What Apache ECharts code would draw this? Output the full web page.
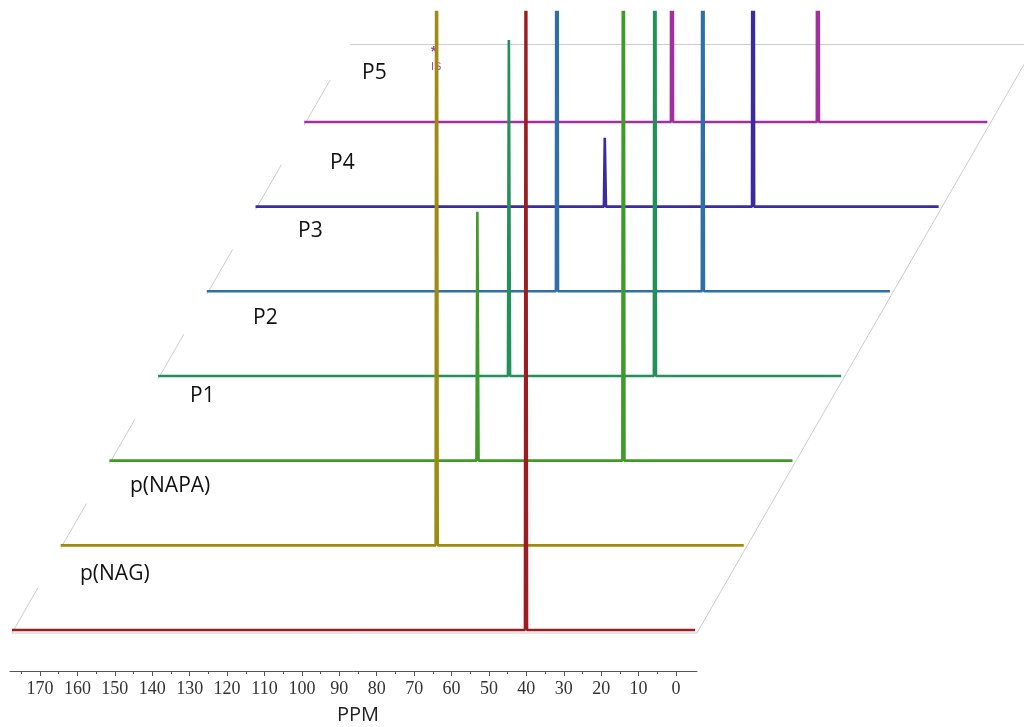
<!DOCTYPE html>
<html><head><meta charset="utf-8">
<script src="https://cdn.jsdelivr.net/npm/echarts@6/dist/echarts.min.js"></script>
<style>html,body{margin:0;padding:0;background:#fff}#c{width:1024px;height:727px}</style>
</head><body><div id="c"></div>
<script>
// ---- data ----
const traceNames = ['p(NAG)', 'p(NAPA)', 'P1', 'P2', 'P3', 'P4', 'P5'];
const ppmStart = 177.5;   // left end of each spectrum (ppm)
const ppmEnd = -5.1;      // right end of each spectrum (ppm)
// peaks: [ppm, intensity]; large intensities run off the top of the plot
const peaksNAG  = [[40.1, 1000]];
const peaksNAPA = [[77.0, 1000]];
const peaksP1   = [[79.1, 249], [40.1, 1000]];
const peaksP2   = [[83.7, 336], [44.7, 1000]];
const peaksP3   = [[83.9, 1000], [44.9, 1000]];
const peaksP4   = [[84.1, 69], [44.5, 1000]];
const peaksP5   = [[79.2, 1000], [40.2, 1000]];
const majorTicks = [170, 160, 150, 140, 130, 120, 110, 100, 90, 80, 70, 60, 50, 40, 30, 20, 10, 0];
const minorTicks = [175, 165, 155, 145, 135, 125, 115, 105, 95, 85, 75, 65, 55, 45, 35, 25, 15, 5];

// ---- presentation ----
const peakSets = [peaksNAG, peaksNAPA, peaksP1, peaksP2, peaksP3, peaksP4, peaksP5];
const colors = ['#9c1c22', '#9e8b12', '#3f9a28', '#23905a', '#2f6fa8', '#3a2c9e', '#a2309c'];
const SHIFT = 13.02;   // ppm shift per stacked trace (perspective)
const STEP = 84.67;    // vertical offset per stacked trace
const HALF = 0.28, TOPHALF = 0.04;
const FRAME_LEVELS = 6.95;

function buildTrace(k) {
  const pts = [[ppmStart, 0]];
  peakSets[k].slice().sort((a, b) => b[0] - a[0]).forEach(([p, h]) => {
    pts.push([p + HALF, 0], [p + TOPHALF, h], [p - TOPHALF, h], [p - HALF, 0]);
  });
  pts.push([ppmEnd, 0]);
  return pts.map(([x, y]) => [x - k * SHIFT, y + k * STEP]);
}

const series = [];
// frame
const fy = -3, fRight = -5.6;
const frameData = [
  [ppmStart, fy], [fRight, fy], [fRight - FRAME_LEVELS * SHIFT, fy + FRAME_LEVELS * STEP], null,
  [ppmStart - FRAME_LEVELS * SHIFT, fy + FRAME_LEVELS * STEP], [fRight - FRAME_LEVELS * SHIFT, fy + FRAME_LEVELS * STEP], null
];
for (let k = 0; k < 7; k++) {
  frameData.push([ppmStart - k * SHIFT, fy + k * STEP], [ppmStart - (k + 0.53) * SHIFT, fy + (k + 0.53) * STEP], null);
}
series.push({
  type: 'line', xAxisIndex: 0, yAxisIndex: 0, silent: true, symbol: 'none', z: 1,
  data: frameData.map(d => d === null ? ['-', '-'] : d),
  lineStyle: { color: '#cccccc', width: 1 }, connectNulls: false, animation: false
});
for (let k = 6; k >= 0; k--) {
  series.push({
    type: 'line', name: traceNames[k], xAxisIndex: 0, yAxisIndex: 0, symbol: 'none',
    data: buildTrace(k), clip: true, z: 10 + (6 - k),
    lineStyle: { color: colors[k], width: 2.6 }, animation: false
  });
}

const labelPos = [[80, 577], [130, 489], [190, 399], [253, 321], [298, 234], [330, 166], [362, 76]];
const graphics = traceNames.map((t, k) => ({
  type: 'text', left: labelPos[k][0], top: labelPos[k][1] - 13,
  style: { text: t, font: '21px "Open Sans"', fill: '#111' }
}));
graphics.push({ type: 'text', left: 337, top: 705, style: { text: 'PPM', font: '20px "Open Sans"', fill: '#222' } });
graphics.push({ type: 'text', left: 431, top: 45, style: { text: '*', font: 'bold 14px "Liberation Sans"', fill: '#9a4aa8' } });
graphics.push({ type: 'text', left: 431, top: 61, style: { text: 'IS', font: '11px "Liberation Sans"', fill: '#9a4aa8' } });

const chart = echarts.init(document.getElementById('c'), null, { renderer: 'canvas' });
chart.setOption({
  animation: false,
  backgroundColor: '#fff',
  grid: [
    { left: 0, top: 12, width: 1024, height: 628 },
    { left: 10, top: 600, width: 687, height: 71 }
  ],
  xAxis: [
    { type: 'value', gridIndex: 0, inverse: true, min: -93.02, max: 180.70, show: false },
    { type: 'value', gridIndex: 1, inverse: true, min: -5.61, max: 178.03, position: 'bottom',
      axisLine: { show: true, onZero: false, lineStyle: { color: '#555', width: 1 } },
      axisTick: { show: true, length: 5, customValues: majorTicks, lineStyle: { color: '#555' } },
      axisLabel: { show: true, customValues: majorTicks, margin: 9, fontFamily: '"Liberation Serif"', fontSize: 18, color: '#333' },
      splitLine: { show: false } },
    { type: 'value', gridIndex: 1, inverse: true, min: -5.61, max: 178.03, position: 'bottom', offset: 0,
      axisLine: { show: false, onZero: false },
      axisTick: { show: true, length: 3, customValues: minorTicks, lineStyle: { color: '#555' } },
      axisLabel: { show: false }, splitLine: { show: false } }
  ],
  yAxis: [
    { type: 'value', gridIndex: 0, min: -10, max: 618, show: false },
    { type: 'value', gridIndex: 1, min: 0, max: 1, show: false }
  ],
  graphic: graphics,
  series: series
});
</script></body></html>
